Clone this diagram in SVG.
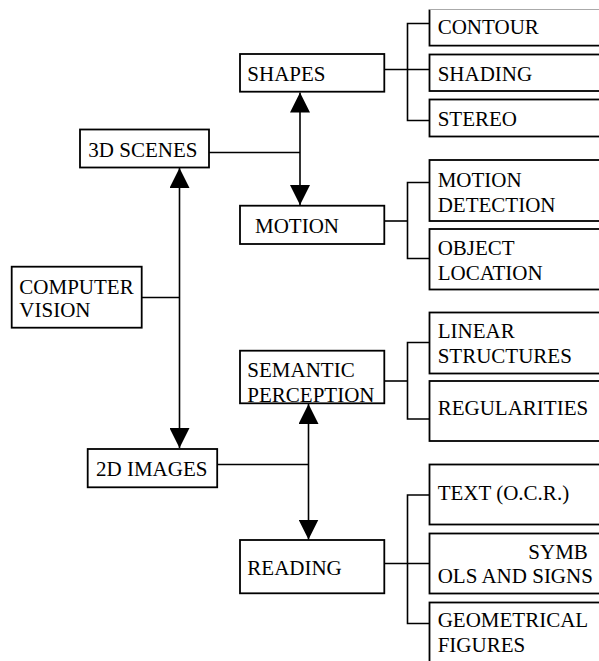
<svg xmlns="http://www.w3.org/2000/svg" width="599" height="661" viewBox="0 0 599 661">
<defs>
<style>
.box{fill:#fff;stroke:#000;stroke-width:1.8}
.ln{fill:none;stroke:#000;stroke-width:1.6}
text{font-family:'Liberation Serif','Times New Roman',serif;font-size:21px;fill:#000}
</style>
<marker id="ah" markerUnits="userSpaceOnUse" markerWidth="20" markerHeight="20" viewBox="0 0 20 20" refX="20" refY="10" orient="auto-start-reverse">
<path d="M0,0 L20,10 L0,20 z" fill="#000"/>
</marker>
</defs>
<rect width="599" height="661" fill="#fff"/>
<g id="connectors">
<line class="ln" x1="179.5" y1="168" x2="179.5" y2="448" marker-start="url(#ah)" marker-end="url(#ah)"/>
<line class="ln" x1="141.7" y1="297.5" x2="179.5" y2="297.5"/>
<line class="ln" x1="209" y1="152.5" x2="300" y2="152.5"/>
<line class="ln" x1="300" y1="92.5" x2="300" y2="205" marker-start="url(#ah)" marker-end="url(#ah)"/>
<line class="ln" x1="217" y1="464.5" x2="308.5" y2="464.5"/>
<line class="ln" x1="308.5" y1="404" x2="308.5" y2="539.5" marker-start="url(#ah)" marker-end="url(#ah)"/>
<line class="ln" x1="384" y1="69.5" x2="429.5" y2="69.5"/>
<path class="ln" d="M429.5,23.5 H407.5 V120.5 H429.5"/>
<line class="ln" x1="384" y1="221" x2="407.5" y2="221"/>
<path class="ln" d="M429.5,182.5 H407.5 V258.5 H429.5"/>
<line class="ln" x1="384" y1="381" x2="407.5" y2="381"/>
<path class="ln" d="M429.5,342.5 H407.5 V419 H429.5"/>
<line class="ln" x1="384" y1="563.5" x2="429.5" y2="563.5"/>
<path class="ln" d="M429.5,495 H407.5 V623.5 H429.5"/>
</g>
<g id="computer-vision"><rect class="box" x="11.7" y="266.7" width="130" height="61"/><text x="19.3" y="294">COMPUTER</text><text x="19.3" y="317.3">VISION</text></g>
<g id="3d-scenes"><rect class="box" x="80" y="129.5" width="129" height="38"/><text x="88.3" y="156.7">3D SCENES</text></g>
<g id="2d-images"><rect class="box" x="87.7" y="449" width="129.5" height="38.3"/><text x="96" y="475.7">2D IMAGES</text></g>
<g id="shapes"><rect class="box" x="240" y="54" width="144.3" height="37.7"/><text x="247.3" y="80.7">SHAPES</text></g>
<g id="motion"><rect class="box" x="240" y="205.7" width="144.3" height="38.3"/><text x="255" y="232.7">MOTION</text></g>
<g id="semantic-perception"><rect class="box" x="240" y="350.7" width="144.3" height="52.6"/><text x="247.3" y="376.7">SEMANTIC</text><text x="247.3" y="401.7">PERCEPTION</text></g>
<g id="reading"><rect class="box" x="240" y="540" width="144.3" height="53.3"/><text x="247.3" y="575">READING</text></g>
<g id="contour"><path class="box" d="M620,45.7 H429.5 V9.5"/><line x1="429.5" y1="9.5" x2="620" y2="9.5" stroke="#aaa" stroke-width="1"/><text x="437.7" y="34.3">CONTOUR</text></g>
<g id="shading"><rect class="box" x="429.5" y="54.5" width="200" height="36.5"/><text x="437.7" y="81">SHADING</text></g>
<g id="stereo"><rect class="box" x="429.5" y="99.5" width="200" height="37"/><text x="437.7" y="126">STEREO</text></g>
<g id="motion-detection"><rect class="box" x="429.5" y="160" width="200" height="61"/><text x="437.7" y="186.7">MOTION</text><text x="437.7" y="211.7">DETECTION</text></g>
<g id="object-location"><rect class="box" x="429.5" y="229" width="200" height="60.5"/><text x="437.7" y="255">OBJECT</text><text x="437.7" y="280">LOCATION</text></g>
<g id="linear-structures"><rect class="box" x="429.5" y="312.5" width="200" height="61"/><text x="437.7" y="338.3">LINEAR</text><text x="437.7" y="363.3">STRUCTURES</text></g>
<g id="regularities"><rect class="box" x="429.5" y="381" width="200" height="60"/><text x="437.7" y="415">REGULARITIES</text></g>
<g id="text-ocr"><rect class="box" x="429.5" y="464.5" width="200" height="60"/><text x="437.7" y="500">TEXT (O.C.R.)</text></g>
<g id="symbols-signs"><rect class="box" x="429.5" y="533.5" width="200" height="60"/><text x="528.3" y="559">SYMB</text><text x="437.7" y="583.3">OLS AND SIGNS</text></g>
<g id="geometrical-figures"><rect class="box" x="429.5" y="602.5" width="200" height="70"/><text x="437.7" y="626.7">GEOMETRICAL</text><text x="437.7" y="651.7">FIGURES</text></g>
</svg>
